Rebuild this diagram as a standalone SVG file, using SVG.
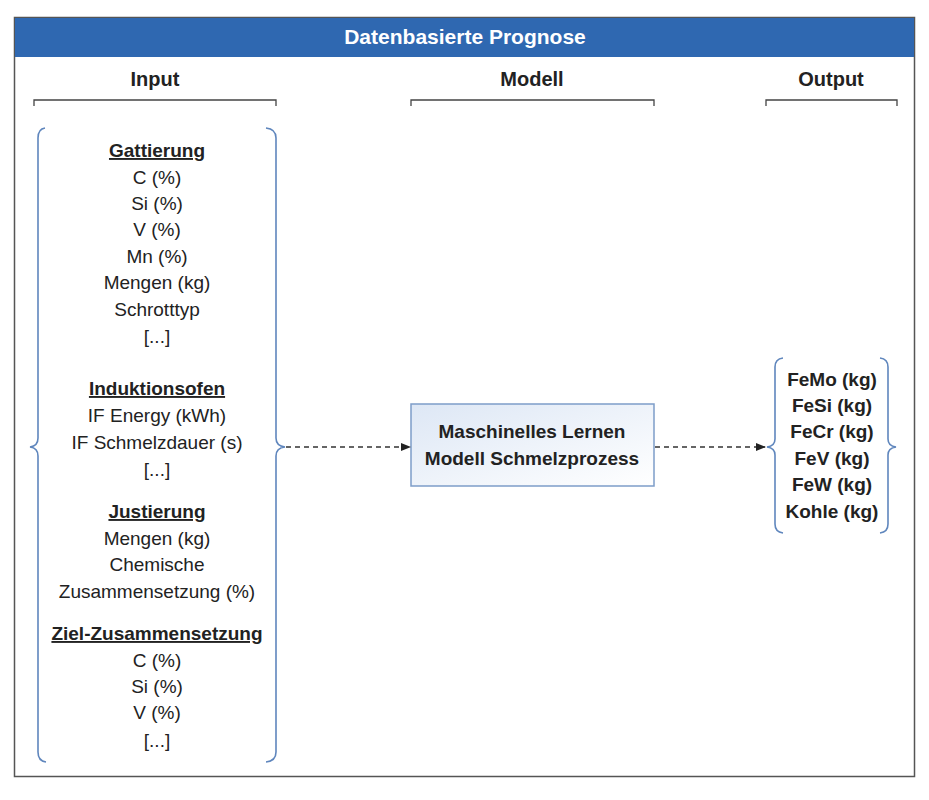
<svg xmlns="http://www.w3.org/2000/svg" width="929" height="800" viewBox="0 0 929 800">
<style>
text{font-family:"Liberation Sans",Arial,sans-serif;fill:#222;text-anchor:middle}
.t{font-size:19px}
.b{font-size:19px;font-weight:bold}
.h{font-size:20px;font-weight:bold}
.u{text-decoration:underline}
.brace{fill:none;stroke:#5f86bd;stroke-width:1.6}
.bk{fill:none;stroke:#444;stroke-width:1.3}
.con{fill:none;stroke:#333;stroke-width:1.5;stroke-dasharray:5 4}
</style>
<defs>
<marker id="ah" markerWidth="10" markerHeight="8" refX="9" refY="4" orient="auto" markerUnits="userSpaceOnUse">
<path d="M0,0 L10,4 L0,8 z" fill="#222"/>
</marker>
<linearGradient id="gb" x1="0" y1="0" x2="1" y2="1">
<stop offset="0" stop-color="#dde7f5"/>
<stop offset="1" stop-color="#ffffff"/>
</linearGradient>
</defs>
<rect width="929" height="800" fill="#fff"/>
<g id="frame">
<rect x="14.5" y="17.5" width="900" height="759" fill="none" stroke="#555" stroke-width="1.5"/>
<rect x="15" y="18" width="899" height="39" fill="#2f68b1"/>
<text x="465" y="44" style="fill:#fff;font-size:21px;font-weight:bold">Datenbasierte Prognose</text>
</g>
<g id="headers">
<text class="h" x="155" y="86">Input</text>
<text class="h" x="532" y="86">Modell</text>
<text class="h" x="831" y="86">Output</text>
<path class="bk" d="M34,106 V100 H276 V106"/>
<path class="bk" d="M411,106 V100 H654 V106"/>
<path class="bk" d="M766,106 V100 H897 V106"/>
</g>
<g id="input">
<path class="brace" d="M45,128 Q38,129 38,138 V438 Q38,446 30,447 Q38,448 38,456 V752 Q38,761 46,762"/>
<path class="brace" d="M266,128 Q276,129 276,138 V438 Q276,446 285,447 Q276,448 276,456 V752 Q276,761 266,762"/>
<text class="b u" x="157" y="157">Gattierung</text>
<text class="t" x="157" y="184">C (%)</text>
<text class="t" x="157" y="210">Si (%)</text>
<text class="t" x="157" y="236">V (%)</text>
<text class="t" x="157" y="263">Mn (%)</text>
<text class="t" x="157" y="289">Mengen (kg)</text>
<text class="t" x="157" y="316">Schrotttyp</text>
<text class="t" x="157" y="343">[...]</text>
<text class="b u" x="157" y="395">Induktionsofen</text>
<text class="t" x="157" y="422">IF Energy (kWh)</text>
<text class="t" x="157" y="449">IF Schmelzdauer (s)</text>
<text class="t" x="157" y="476">[...]</text>
<text class="b u" x="157" y="518">Justierung</text>
<text class="t" x="157" y="545">Mengen (kg)</text>
<text class="t" x="157" y="571">Chemische</text>
<text class="t" x="157" y="598">Zusammensetzung (%)</text>
<text class="b u" x="157" y="640">Ziel-Zusammensetzung</text>
<text class="t" x="157" y="667">C (%)</text>
<text class="t" x="157" y="693">Si (%)</text>
<text class="t" x="157" y="719">V (%)</text>
<text class="t" x="157" y="747">[...]</text>
</g>
<g id="model">
<rect x="411" y="404" width="243" height="82" fill="url(#gb)" stroke="#7d9dc9" stroke-width="1.5"/>
<text class="b" x="532" y="438">Maschinelles Lernen</text>
<text class="b" x="532" y="465">Modell Schmelzprozess</text>
</g>
<g id="output">
<path class="brace" d="M783,358 Q775,359 775,367 V439 Q775,446 767,447 Q775,448 775,455 V524 Q775,532 783,533"/>
<path class="brace" d="M880,358 Q888,359 888,367 V439 Q888,446 896,447 Q888,448 888,455 V524 Q888,532 880,533"/>
<text class="b" x="832" y="386">FeMo (kg)</text>
<text class="b" x="832" y="412">FeSi (kg)</text>
<text class="b" x="832" y="438">FeCr (kg)</text>
<text class="b" x="832" y="465">FeV (kg)</text>
<text class="b" x="832" y="491">FeW (kg)</text>
<text class="b" x="832" y="518">Kohle (kg)</text>
</g>
<g id="connectors">
<path class="con" d="M286,447 H410" marker-end="url(#ah)"/>
<path class="con" d="M655,447 H765" marker-end="url(#ah)"/>
</g>
</svg>
